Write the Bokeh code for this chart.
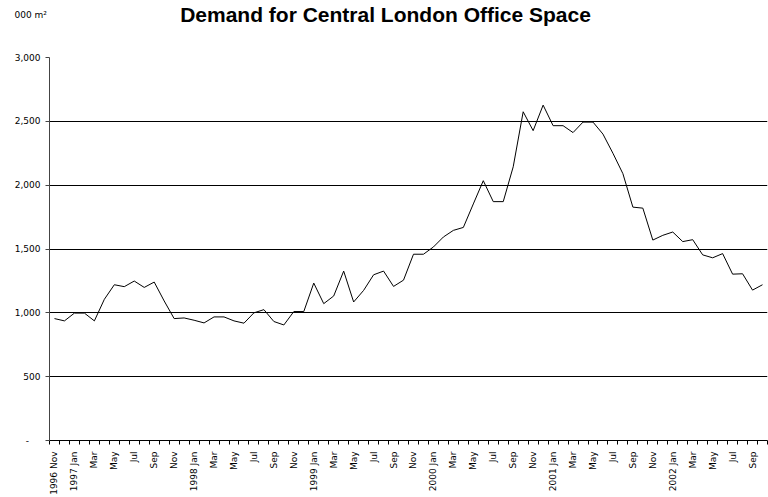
from bokeh.plotting import figure
from bokeh.models import FixedTicker, NumeralTickFormatter, Label, Range1d
from bokeh.embed import file_html
from bokeh.resources import INLINE
from math import pi

months = [
    "1996 Nov", "Dec",
    "1997 Jan", "Feb", "Mar", "Apr", "May", "Jun", "Jul", "Aug", "Sep", "Oct", "Nov", "Dec",
    "1998 Jan", "Feb", "Mar", "Apr", "May", "Jun", "Jul", "Aug", "Sep", "Oct", "Nov", "Dec",
    "1999 Jan", "Feb", "Mar", "Apr", "May", "Jun", "Jul", "Aug", "Sep", "Oct", "Nov", "Dec",
    "2000 Jan", "Feb", "Mar", "Apr", "May", "Jun", "Jul", "Aug", "Sep", "Oct", "Nov", "Dec",
    "2001 Jan", "Feb", "Mar", "Apr", "May", "Jun", "Jul", "Aug", "Sep", "Oct", "Nov", "Dec",
    "2002 Jan", "Feb", "Mar", "Apr", "May", "Jun", "Jul", "Aug", "Sep", "Oct",
]

demand = [
    955, 937,
    998, 998, 937, 1106, 1220, 1205, 1249, 1199, 1241, 1093, 955, 960,
    942, 921, 968, 968, 937, 919, 1000, 1025, 932, 905, 1010, 1010,
    1233, 1072, 1132, 1327, 1085, 1176, 1298, 1327, 1207, 1256, 1459, 1459,
    1516, 1594, 1646, 1669, 1853, 2035, 1871, 1871, 2144, 2575, 2427, 2627,
    2466, 2466, 2412, 2494, 2494, 2400, 2250, 2090, 1828, 1820, 1570, 1607,
    1633, 1558, 1573, 1454, 1431, 1464, 1303, 1306, 1178, 1220,
]

y_ticks = [0, 500, 1000, 1500, 2000, 2500, 3000]
title_text = "Demand for Central London Office Space"
unit_text = "000 m\u00b2"

idx = list(range(len(months)))

p = figure(width=768, height=497, output_backend="svg", toolbar_location=None,
           x_range=Range1d(-0.5, len(months) - 0.5), y_range=Range1d(0, 3000),
           min_border_left=49, min_border_right=1, min_border_top=57, min_border_bottom=55)
p.outline_line_color = None
p.background_fill_color = "white"
p.border_fill_color = "white"

p.line(idx, demand, line_color="black", line_width=1)

# x axis
label_idx = idx[::2]
p.xaxis.ticker = FixedTicker(ticks=label_idx, minor_ticks=[i - 0.5 for i in idx] + [len(months) - 0.5])
p.xaxis.major_label_overrides = {i: months[i] for i in label_idx}
p.xaxis.major_label_orientation = pi / 2
p.xaxis.major_tick_out = 0
p.xaxis.major_tick_in = 0
p.xaxis.minor_tick_out = 4
p.xaxis.minor_tick_in = 0
p.xaxis.minor_tick_line_color = "black"
p.xaxis.axis_line_color = "black"
p.xaxis.major_label_standoff = 7
p.xaxis.major_label_text_font = "DejaVu Sans"
p.xaxis.major_label_text_font_size = "9px"
p.xaxis.major_label_text_color = "black"
p.xgrid.grid_line_color = None

# y axis
p.yaxis.ticker = FixedTicker(ticks=y_ticks)
p.yaxis.formatter = NumeralTickFormatter(format="0,0")
p.yaxis.major_label_overrides = {0: "-\u00a0\u00a0\u00a0\u00a0"}
p.yaxis.major_tick_out = 4
p.yaxis.major_tick_in = 0
p.yaxis.minor_tick_line_color = None
p.yaxis.axis_line_color = "#444444"
p.yaxis.major_tick_line_color = "#444444"
p.yaxis.major_label_standoff = 5
p.yaxis.major_label_text_font = "DejaVu Sans"
p.yaxis.major_label_text_font_size = "9px"
p.yaxis.major_label_text_color = "black"
p.ygrid.grid_line_color = "black"
p.ygrid.grid_line_width = 1

p.add_layout(Label(x=385, y=14, x_units="canvas", y_units="canvas", text=title_text,
                   text_font="Liberation Sans", text_font_size="21px", text_font_style="bold",
                   text_color="black", text_baseline="alphabetic", text_align="center"), "above")
p.add_layout(Label(x=14, y=14, x_units="canvas", y_units="canvas", text=unit_text,
                   text_font="DejaVu Sans", text_font_size="9px", text_color="black",
                   text_baseline="middle", text_align="left"), "above")

open("out.html", "w").write(file_html(p, INLINE))
